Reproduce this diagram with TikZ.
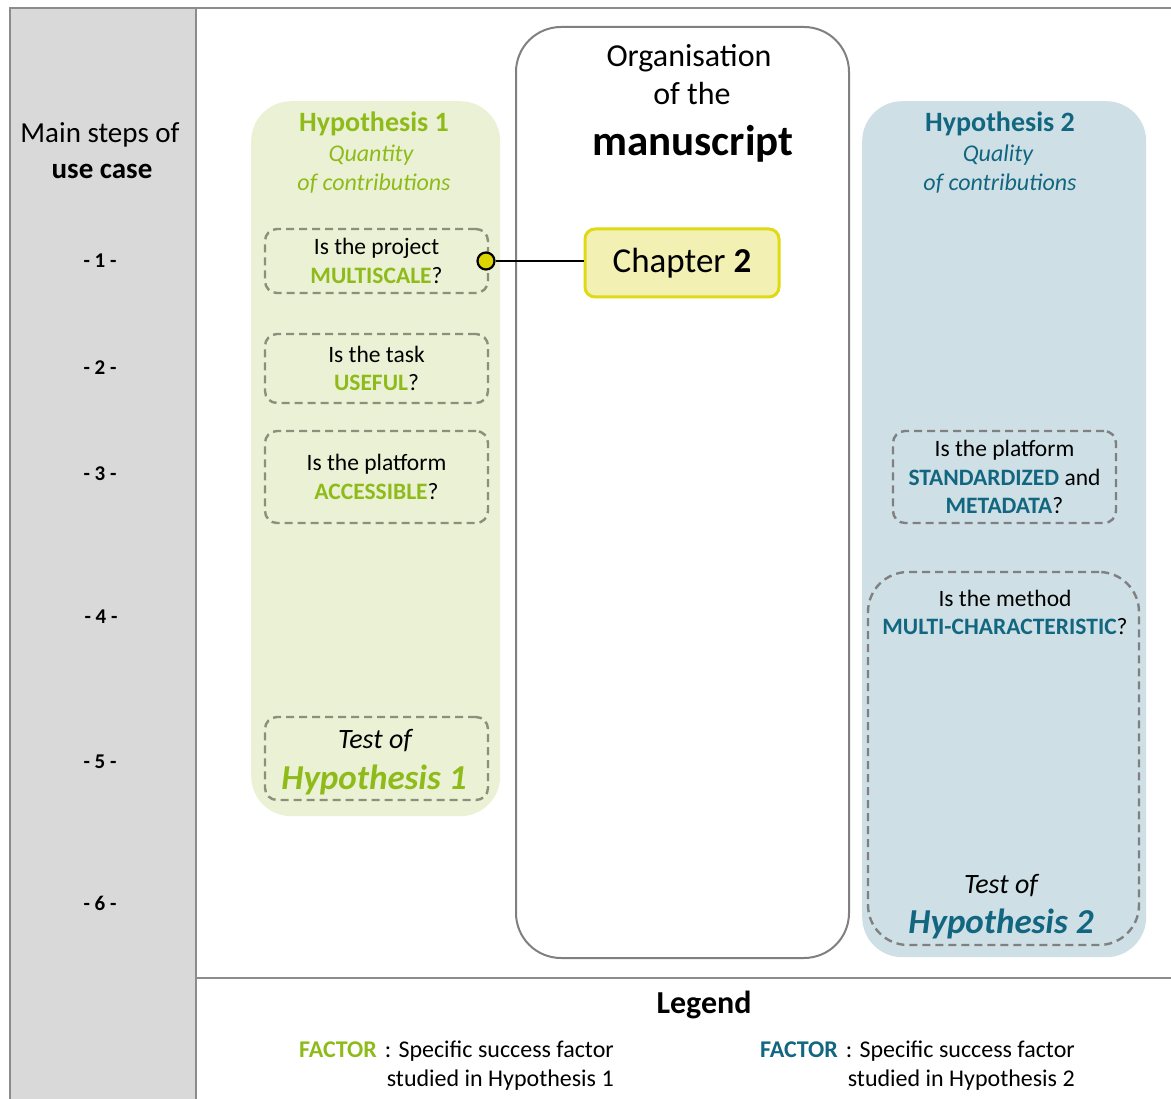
\documentclass[tikz,border=0pt]{standalone}
\usepackage{fontspec}
\setmainfont{Carlito}
\definecolor{hone}{RGB}{143,187,26}
\definecolor{htwo}{RGB}{18,102,128}
\definecolor{honefill}{RGB}{235,241,212}
\definecolor{htwofill}{RGB}{206,224,230}
\definecolor{colgray}{RGB}{217,217,217}
\definecolor{framegray}{RGB}{140,140,140}
\definecolor{dashgray}{RGB}{128,128,128}
\definecolor{dashgreen}{RGB}{138,144,122}
\definecolor{chapfill}{RGB}{242,240,178}
\definecolor{chapdraw}{RGB}{224,218,20}
\definecolor{dotyellow}{RGB}{221,213,0}
\newcommand{\fsz}[2]{\fontsize{#1}{#2}\selectfont}
\begin{document}
\begin{tikzpicture}[x=1pt,y=-1pt,
  txt/.style={inner sep=0pt, anchor=base},
  panel/.style={anchor=north west, inner sep=0pt, rounded corners=40pt},
  qbox/.style={draw=dashgray, dash pattern=on 8pt off 5pt, line width=2.4pt,
    rounded corners=12pt, minimum width=223pt, align=center, inner sep=0pt,
    font=\fsz{23.5}{28.5}},
  steplbl/.style={txt, font=\fsz{21}{25}\bfseries},
  legtxt/.style={txt, font=\fsz{24}{29}}
]
\useasboundingbox (0,0) rectangle (1171,1099);
% frame
\fill[colgray] (10,8) rectangle (196,1099);
\draw[framegray, line width=2pt] (10,1099) -- (10,8) -- (1171,8);
\draw[framegray, line width=2pt] (196,8) -- (196,1099);
\draw[framegray, line width=2pt] (196,978) -- (1171,978);

% left column
\node[txt, font=\fsz{29}{35}] (ms1) at (100,143) {Main steps of};
\node[txt, font=\fsz{29}{35}\bfseries] (ms2) at (102,179) {use case};
\node[steplbl] (s1) at (100,268) {- 1 -};
\node[steplbl] (s2) at (100,375) {- 2 -};
\node[steplbl] (s3) at (100,480) {- 3 -};
\node[steplbl] (s4) at (101,623) {- 4 -};
\node[steplbl] (s5) at (100,768) {- 5 -};
\node[steplbl] (s6) at (100,910) {- 6 -};

% panels
\node[panel, fill=honefill, minimum width=249pt, minimum height=715pt] (hyp1) at (251,101) {};
\node[panel, fill=htwofill, minimum width=284pt, minimum height=856pt] (hyp2) at (862,101) {};
\node[panel, draw=dashgray, line width=2pt, fill=white, rounded corners=45pt,
      minimum width=333pt, minimum height=931pt] (manu) at (515,26) {};

% manuscript title
\node[txt, font=\fsz{32}{38}] (org1) at (689,67) {Organisation};
\node[txt, font=\fsz{32}{38}] (org2) at (692,105) {of the};
\node[txt, font=\fsz{43}{50}\bfseries] (org3) at (693,156) {manuscript};

% hypothesis 1
\node[txt, font=\fsz{28}{34}\bfseries, text=hone] (h1t) at (374,132) {Hypothesis 1};
\node[txt, font=\fsz{24}{29}\itshape, text=hone] (h1a) at (371,162) {Quantity};
\node[txt, font=\fsz{24}{29}\itshape, text=hone] (h1b) at (374,191) {of contributions};

\node[qbox, draw=dashgreen, minimum height=64pt] (q1) at (376.5,261)
  {Is the project\\\textcolor{hone}{\textbf{MULTISCALE}}?};
\node[qbox, draw=dashgreen, minimum height=69pt] (q2) at (376.5,368.5)
  {Is the task\\\textcolor{hone}{\textbf{USEFUL}}?};
\node[qbox, draw=dashgreen, minimum height=92pt] (q3) at (376.5,477)
  {Is the platform\\\textcolor{hone}{\textbf{ACCESSIBLE}}?};
\node[qbox, draw=dashgreen, minimum height=83pt] (t1) at (376.5,758.5) {};
\node[txt, font=\fsz{28}{34}\itshape] (t1a) at (375,748) {Test of};
\node[txt, font=\fsz{35}{40}\bfseries\itshape, text=hone] (t1b) at (374,789) {Hypothesis 1};

% hypothesis 2
\node[txt, font=\fsz{28}{34}\bfseries, text=htwo] (h2t) at (1000,132) {Hypothesis 2};
\node[txt, font=\fsz{24}{29}\itshape, text=htwo] (h2a) at (998,162) {Quality};
\node[txt, font=\fsz{24}{29}\itshape, text=htwo] (h2b) at (1000,191) {of contributions};

\node[qbox, minimum height=92pt] (q4) at (1004.5,477)
  {Is the platform\\\textcolor{htwo}{\textbf{STANDARDIZED}} and\\\textcolor{htwo}{\textbf{METADATA}}?};
\node[qbox, rounded corners=40pt, minimum width=271pt, minimum height=373pt] (q5) at (1003.5,758.5) {};
\node[txt, font=\fsz{23.5}{28.5}] (q5a) at (1005,606) {Is the method};
\node[txt, font=\fsz{23.5}{28.5}] (q5b) at (1005,634) {\textcolor{htwo}{\textbf{MULTI-CHARACTERISTIC}}?};
\node[txt, font=\fsz{28}{34}\itshape] (t2a) at (1001,893) {Test of};
\node[txt, font=\fsz{35}{40}\bfseries\itshape, text=htwo] (t2b) at (1001,933) {Hypothesis 2};

% chapter and connector
\node[draw=chapdraw, fill=chapfill, line width=3pt, rounded corners=10pt,
      minimum width=194pt, minimum height=68pt, inner sep=0pt,
      font=\fsz{35}{40}] (chap) at (682,263) {Chapter \textbf{2}};
\node[circle, fill=dotyellow, draw=black, line width=2.2pt, minimum size=17pt, inner sep=0pt] (dot) at (486,261) {};
\draw[black, line width=2.2pt] (dot) -- (dot -| chap.west);

% legend
\node[txt, font=\fsz{32}{38}\bfseries] (leg) at (704,1013) {Legend};
\node[legtxt, anchor=base west, text=hone, font=\fsz{24}{29}\bfseries] (f1) at (299,1057) {FACTOR};
\node[legtxt, anchor=base east] (f1a) at (614,1057) {: Specific success factor};
\node[legtxt, anchor=base east] (f1b) at (614,1086) {studied in Hypothesis 1};
\node[legtxt, anchor=base west, text=htwo, font=\fsz{24}{29}\bfseries] (f2) at (760,1057) {FACTOR};
\node[legtxt, anchor=base east] (f2a) at (1075,1057) {: Specific success factor};
\node[legtxt, anchor=base east] (f2b) at (1075,1086) {studied in Hypothesis 2};
\end{tikzpicture}
\end{document}
